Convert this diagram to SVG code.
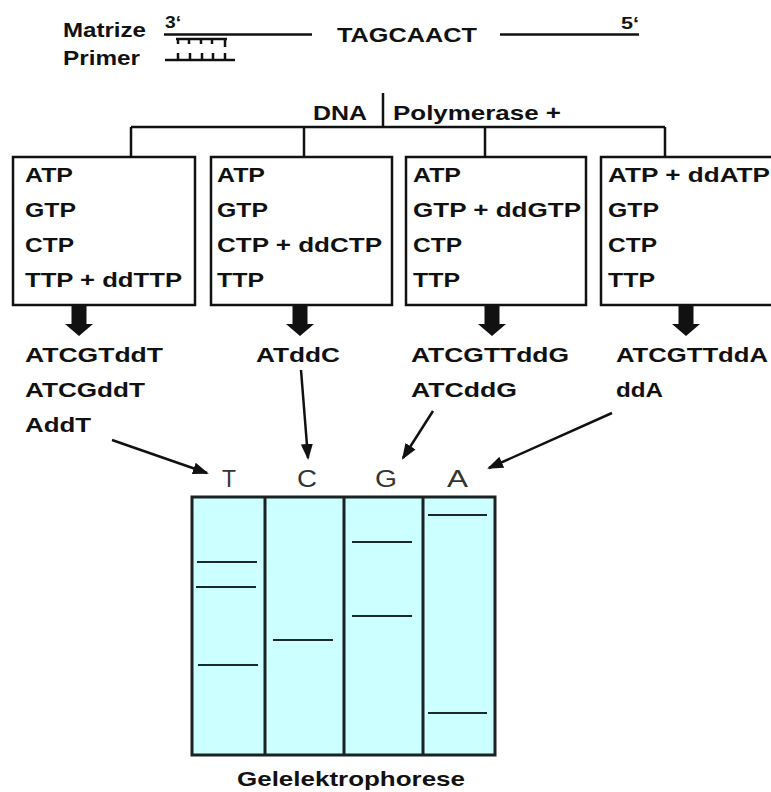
<svg xmlns="http://www.w3.org/2000/svg" width="771" height="792" viewBox="0 0 771 792">
<style>
  .b { font-family: "Liberation Sans", Arial, sans-serif; font-weight: bold; font-size: 21px; fill: #111; }
  .s { font-family: "Liberation Sans", Arial, sans-serif; font-weight: bold; font-size: 16px; fill: #111; }
  .r { font-family: "Liberation Sans", Arial, sans-serif; font-size: 23px; fill: #333; }
  .ln { stroke: #111; stroke-width: 2.5; fill: none; }
  .box { stroke: #111; stroke-width: 2.5; fill: #fff; }
  .band { stroke: #1a2a2a; stroke-width: 2.2; }
  .thin { stroke: #111; stroke-width: 2.5; fill: none; }
</style>
<defs>
  <marker id="ah" markerUnits="userSpaceOnUse" markerWidth="16" markerHeight="12" refX="14" refY="6" orient="auto">
    <path d="M0,0 L16,6 L0,12 Z" fill="#111"/>
  </marker>
  <polygon id="down" points="-7.5,306 7.5,306 7.5,324 14,324 0,336 -14,324 -7.5,324" fill="#111"/>
</defs>
<rect width="771" height="792" fill="#fff"/>

<g id="template">
  <text class="b" x="63" y="37" textLength="83" lengthAdjust="spacingAndGlyphs">Matrize</text>
  <text class="s" x="165" y="28" textLength="16" lengthAdjust="spacingAndGlyphs">3‘</text>
  <line class="ln" x1="164" y1="34.5" x2="312" y2="34.5"/>
  <text class="b" x="337" y="42" textLength="140" lengthAdjust="spacingAndGlyphs">TAGCAACT</text>
  <line class="ln" x1="500" y1="34.5" x2="639" y2="34.5"/>
  <text class="s" x="621" y="29" textLength="18" lengthAdjust="spacingAndGlyphs">5‘</text>
  <path class="ln" stroke-width="2" d="M176,39 H227 M178,39 V44 M189,39 V44 M201,39 V44 M212,39 V44 M225,39 V47"/>
</g>
<g id="primer">
  <text class="b" x="63" y="65" textLength="77" lengthAdjust="spacingAndGlyphs">Primer</text>
  <path class="ln" stroke-width="2" d="M165,60 H235 M178,53 V60 M190,53 V60 M202,53 V60 M213,53 V60 M225,53 V60"/>
</g>
<g id="polymerase">
  <text class="b" x="313" y="120" textLength="54" lengthAdjust="spacingAndGlyphs">DNA</text>
  <text class="b" x="393" y="120" textLength="168" lengthAdjust="spacingAndGlyphs">Polymerase +</text>
</g>

<g id="connectors">
  <line class="ln" x1="383" y1="93" x2="383" y2="127"/>
  <line class="ln" x1="131" y1="127" x2="665" y2="127"/>
  <line class="ln" x1="131" y1="127" x2="131" y2="157"/>
  <line class="ln" x1="304" y1="127" x2="304" y2="157"/>
  <line class="ln" x1="485" y1="127" x2="485" y2="157"/>
  <line class="ln" x1="665" y1="127" x2="665" y2="157"/>
  <use href="#down" x="79"/>
  <use href="#down" x="300"/>
  <use href="#down" x="492"/>
  <use href="#down" x="686"/>
  <line class="thin" x1="112" y1="440" x2="207" y2="473" marker-end="url(#ah)"/>
  <line class="thin" x1="301" y1="370" x2="308" y2="458" marker-end="url(#ah)"/>
  <line class="thin" x1="433" y1="411" x2="403" y2="458" marker-end="url(#ah)"/>
  <line class="thin" x1="612" y1="413" x2="489" y2="468" marker-end="url(#ah)"/>
</g>

<g id="box1">
  <rect class="box" x="13" y="157" width="182" height="148"/>
  <text class="b" x="25" y="182" textLength="48" lengthAdjust="spacingAndGlyphs">ATP</text>
  <text class="b" x="25" y="217" textLength="51" lengthAdjust="spacingAndGlyphs">GTP</text>
  <text class="b" x="25" y="252" textLength="49" lengthAdjust="spacingAndGlyphs">CTP</text>
  <text class="b" x="25" y="287" textLength="157" lengthAdjust="spacingAndGlyphs">TTP + ddTTP</text>
</g>
<g id="box2">
  <rect class="box" x="211" y="157" width="181" height="148"/>
  <text class="b" x="217" y="182" textLength="48" lengthAdjust="spacingAndGlyphs">ATP</text>
  <text class="b" x="217" y="217" textLength="51" lengthAdjust="spacingAndGlyphs">GTP</text>
  <text class="b" x="217" y="252" textLength="165" lengthAdjust="spacingAndGlyphs">CTP + ddCTP</text>
  <text class="b" x="217" y="287" textLength="47" lengthAdjust="spacingAndGlyphs">TTP</text>
</g>
<g id="box3">
  <rect class="box" x="406" y="157" width="180" height="148"/>
  <text class="b" x="413" y="182" textLength="48" lengthAdjust="spacingAndGlyphs">ATP</text>
  <text class="b" x="413" y="217" textLength="168" lengthAdjust="spacingAndGlyphs">GTP + ddGTP</text>
  <text class="b" x="413" y="252" textLength="49" lengthAdjust="spacingAndGlyphs">CTP</text>
  <text class="b" x="413" y="287" textLength="47" lengthAdjust="spacingAndGlyphs">TTP</text>
</g>
<g id="box4">
  <rect class="box" x="601" y="157" width="200" height="148"/>
  <text class="b" x="608" y="182" textLength="162" lengthAdjust="spacingAndGlyphs">ATP + ddATP</text>
  <text class="b" x="608" y="217" textLength="51" lengthAdjust="spacingAndGlyphs">GTP</text>
  <text class="b" x="608" y="252" textLength="49" lengthAdjust="spacingAndGlyphs">CTP</text>
  <text class="b" x="608" y="287" textLength="47" lengthAdjust="spacingAndGlyphs">TTP</text>
</g>

<g id="products-T">
  <text class="b" x="25" y="362" textLength="138" lengthAdjust="spacingAndGlyphs">ATCGTddT</text>
  <text class="b" x="25" y="397" textLength="120" lengthAdjust="spacingAndGlyphs">ATCGddT</text>
  <text class="b" x="25" y="432" textLength="66" lengthAdjust="spacingAndGlyphs">AddT</text>
</g>
<g id="products-C">
  <text class="b" x="256" y="362" textLength="84" lengthAdjust="spacingAndGlyphs">ATddC</text>
</g>
<g id="products-G">
  <text class="b" x="411" y="362" textLength="158" lengthAdjust="spacingAndGlyphs">ATCGTTddG</text>
  <text class="b" x="411" y="397" textLength="106" lengthAdjust="spacingAndGlyphs">ATCddG</text>
</g>
<g id="products-A">
  <text class="b" x="616" y="362" textLength="152" lengthAdjust="spacingAndGlyphs">ATCGTTddA</text>
  <text class="b" x="616" y="397" textLength="47" lengthAdjust="spacingAndGlyphs">ddA</text>
</g>

<g id="gel">
  <text class="r" x="222" y="487" textLength="14" lengthAdjust="spacingAndGlyphs">T</text>
  <text class="r" x="297" y="487" textLength="20" lengthAdjust="spacingAndGlyphs">C</text>
  <text class="r" x="375" y="487" textLength="22" lengthAdjust="spacingAndGlyphs">G</text>
  <text class="r" x="447" y="487" textLength="21" lengthAdjust="spacingAndGlyphs">A</text>
  <rect x="192" y="497" width="303" height="258" fill="#ccffff" stroke="#1a2222" stroke-width="3"/>
  <line x1="265" y1="497" x2="265" y2="755" stroke="#1a2222" stroke-width="3"/>
  <line x1="344" y1="497" x2="344" y2="755" stroke="#1a2222" stroke-width="3"/>
  <line x1="423" y1="497" x2="423" y2="755" stroke="#1a2222" stroke-width="3"/>
  <line class="band" x1="197" y1="562" x2="257" y2="562"/>
  <line class="band" x1="196" y1="587" x2="256" y2="587"/>
  <line class="band" x1="198" y1="665" x2="258" y2="665"/>
  <line class="band" x1="273" y1="640" x2="333" y2="640"/>
  <line class="band" x1="352" y1="542" x2="412" y2="542"/>
  <line class="band" x1="352" y1="616" x2="412" y2="616"/>
  <line class="band" x1="428" y1="515" x2="487" y2="515"/>
  <line class="band" x1="428" y1="713" x2="487" y2="713"/>
  <text class="b" x="237" y="786" font-size="20" textLength="228" lengthAdjust="spacingAndGlyphs">Gelelektrophorese</text>
</g>
</svg>
